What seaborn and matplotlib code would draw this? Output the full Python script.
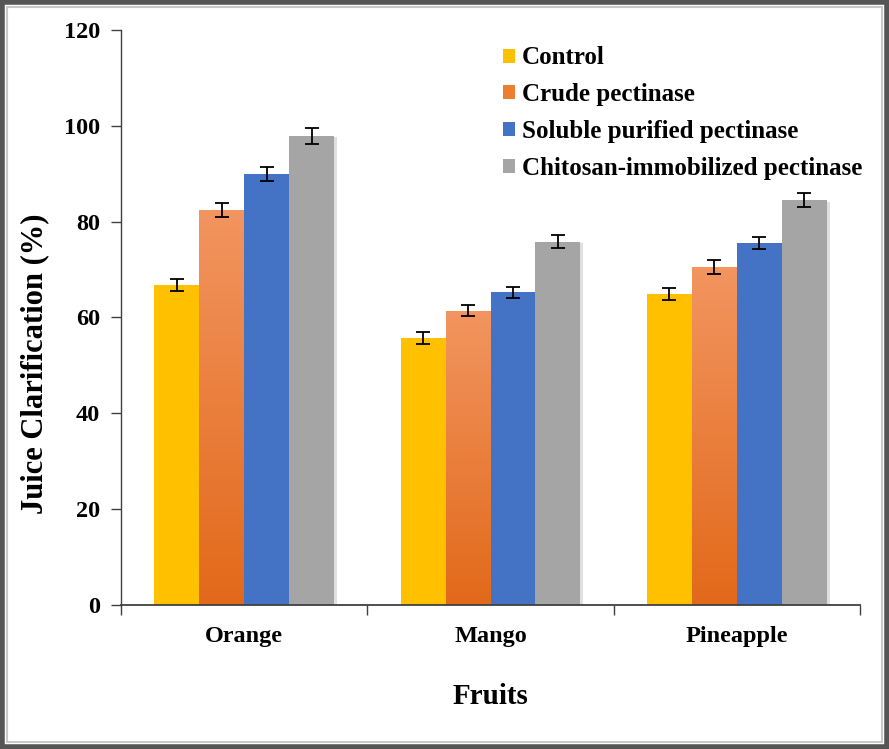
import numpy as np
import pandas as pd
import matplotlib
matplotlib.use("Agg")
import matplotlib.pyplot as plt
import seaborn as sns
from matplotlib.patches import Rectangle
from matplotlib.colors import LinearSegmentedColormap

# data
fruits = ["Orange", "Mango", "Pineapple"]
treatments = ["Control", "Crude pectinase", "Soluble purified pectinase",
              "Chitosan-immobilized pectinase"]
control = [66.8, 55.7, 64.9]
crude = [82.4, 61.4, 70.5]
soluble = [89.9, 65.3, 75.5]
chitosan = [97.9, 75.8, 84.5]
control_err = [1.25, 1.2, 1.3]
crude_err = [1.45, 1.15, 1.5]
soluble_err = [1.4, 1.15, 1.3]
chitosan_err = [1.6, 1.35, 1.55]

colors = ["#FFC000", "#ED7D31", "#4472C4", "#A5A5A5"]

rows = []
for t, vals, errs in zip(treatments, [control, crude, soluble, chitosan],
                         [control_err, crude_err, soluble_err, chitosan_err]):
    for f, v, e in zip(fruits, vals, errs):
        rows.append({"Fruit": f, "Treatment": t, "Value": v, "Err": e})
df = pd.DataFrame(rows)

sns.set_style("white")
plt.rcParams["font.family"] = ["Liberation Serif", "DejaVu Serif"]
plt.rcParams["font.weight"] = "bold"
plt.rcParams["text.color"] = "black"
plt.rcParams["axes.labelcolor"] = "black"
plt.rcParams["xtick.labelcolor"] = "black"
plt.rcParams["ytick.labelcolor"] = "black"

fig = plt.figure(figsize=(8.89, 7.49), dpi=100)
ax = fig.add_axes([0.1361, 0.1923, 0.8313, 0.7677])

sns.barplot(data=df, x="Fruit", y="Value", hue="Treatment", order=fruits,
            hue_order=treatments, palette=colors, width=0.73, errorbar=None,
            saturation=1, linewidth=0, ax=ax)

# gradient fill for the crude pectinase bars
grad_cmap = LinearSegmentedColormap.from_list("crude", ["#E2691A", "#F29560"])
for cont, t in zip(ax.containers, treatments):
    sub = df[df["Treatment"] == t]
    xs = [p.get_x() + p.get_width() / 2 for p in cont.patches]
    for p in cont.patches:
        p.set_zorder(2)
        x0, w, h = p.get_x(), p.get_width(), p.get_height()
        shadow = Rectangle((x0 + 0.012, 0), w, h - 0.3, facecolor="#000000",
                           alpha=0.12, zorder=1.5, linewidth=0)
        ax.add_patch(shadow)
        if t == "Crude pectinase":
            grad = np.linspace(0, 1, 256).reshape(-1, 1)
            im = ax.imshow(grad, extent=[x0, x0 + w, 0, h], origin="lower",
                           aspect="auto", cmap=grad_cmap, vmin=0, vmax=1,
                           zorder=2.1)
            im.set_clip_path(p)
    ax.errorbar(xs, sub["Value"], yerr=sub["Err"], fmt="none", ecolor="black",
                elinewidth=1.3, capsize=5, capthick=1.3, zorder=4)

ax.set_xlim(-0.5, 2.5)
ax.set_ylim(0, 120)
ax.set_yticks(np.arange(0, 121, 20))
ax.set_xticks([0, 1, 2])
ax.set_xticks([-0.5, 0.5, 1.5, 2.5], minor=True)
ax.set_xticklabels(fruits, fontsize=17.5, fontweight="bold")
ax.tick_params(axis="x", which="major", length=0, pad=15)
ax.tick_params(axis="x", which="minor", length=7, width=1, color="#404040",
               direction="out", bottom=True)
ax.tick_params(axis="y", length=7, width=1, color="#404040", direction="out",
               left=True, labelsize=17.5, pad=8)
for lab in ax.get_yticklabels():
    lab.set_fontweight("bold")

for side in ["top", "right"]:
    ax.spines[side].set_visible(False)
ax.spines["left"].set_color("#404040")
ax.spines["bottom"].set_color("#404040")
ax.spines["left"].set_linewidth(1)
ax.spines["bottom"].set_linewidth(1.3)

ax.set_xlabel("Fruits", fontsize=21, fontweight="bold")
ax.xaxis.set_label_coords(0.5, -0.135)
ax.set_ylabel("Juice Clarification (%)", fontsize=22, fontweight="bold")
ax.yaxis.set_label_coords(-0.097, 0.419)

leg = ax.legend(loc="upper left", bbox_to_anchor=(0.566, 0.938),
                bbox_transform=fig.transFigure, frameon=False,
                fontsize=18, handlelength=0.48, handleheight=0.48,
                handletextpad=0.28, labelspacing=0.55, borderaxespad=0,
                borderpad=0)
for txt in leg.get_texts():
    txt.set_fontweight("bold")

# outer frame
fig.patches.append(Rectangle((0.0025, 0.003), 0.995, 0.994,
                             transform=fig.transFigure, fill=False,
                             edgecolor="#555555", linewidth=4, zorder=10))
fig.patches.append(Rectangle((0.008, 0.009), 0.984, 0.982,
                             transform=fig.transFigure, fill=False,
                             edgecolor="#C8C8C8", linewidth=1.5, zorder=10))

fig.savefig("out.png", dpi=100)
